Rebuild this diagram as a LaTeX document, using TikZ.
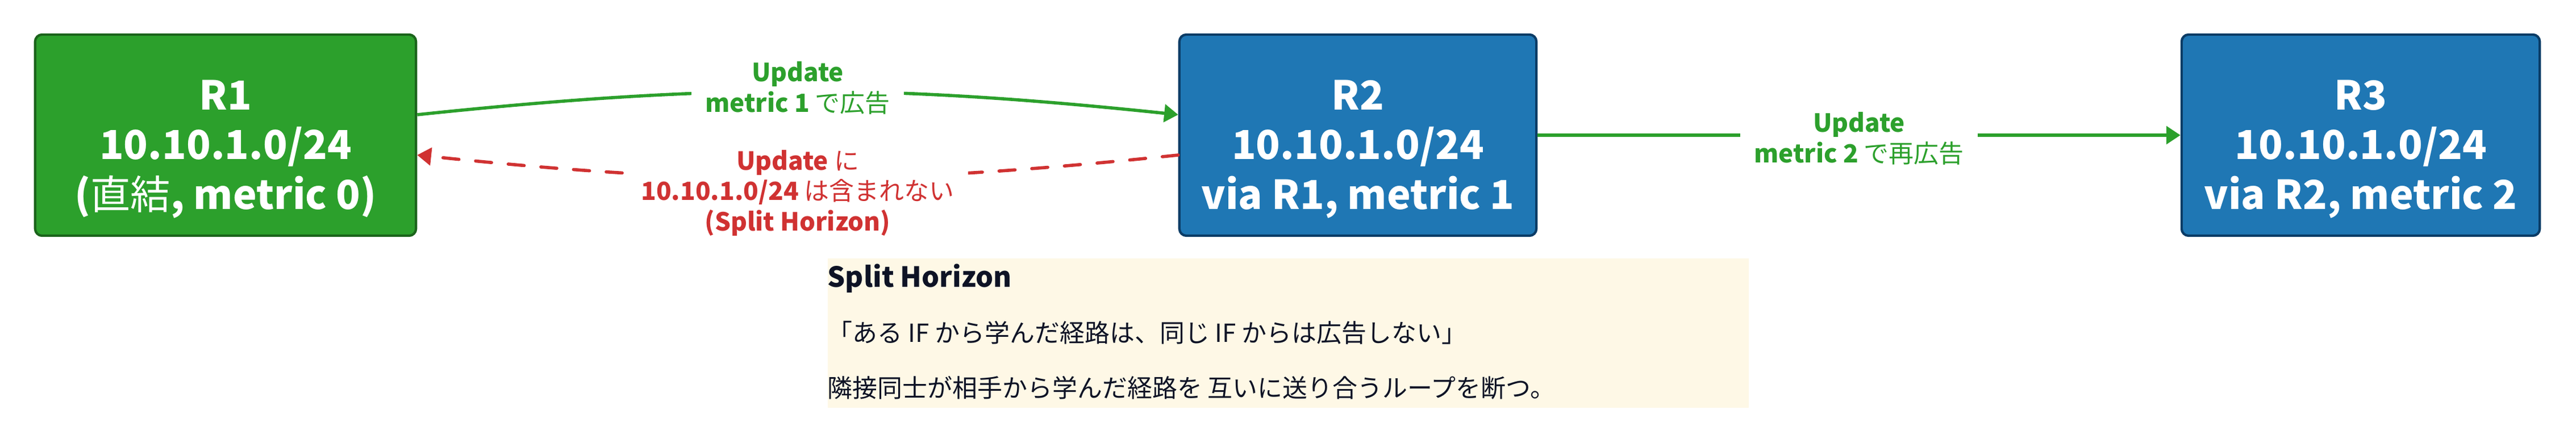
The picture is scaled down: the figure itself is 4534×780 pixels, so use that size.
\documentclass[tikz,border=0pt]{standalone}
\usepackage{fontspec}
\setmainfont{Noto Sans CJK JP}
\usetikzlibrary{arrows.meta}

\definecolor{advgreen}{HTML}{2CA02C}
\definecolor{advgreendark}{HTML}{1B641B}
\definecolor{rtblue}{HTML}{1F77B4}
\definecolor{rtbluedark}{HTML}{0B3C66}
\definecolor{shred}{HTML}{D03232}
\definecolor{notebg}{HTML}{FEF8E6}
\definecolor{noteink}{HTML}{0E1325}

\newcommand{\jpn}[1]{{\mdseries #1}}

\tikzset{
  router/.style={draw, line width=1.2pt, rounded corners=3.5pt, minimum height=3.54cm,
    align=center, text=white, text height=79pt, font=\fontsize{20}{25}\selectfont\bfseries},
  adv/.style={advgreen, line width=1.6pt, -{Triangle[length=7pt,width=8.8pt]}},
  blocked/.style={shred, line width=1.6pt, dash pattern=on 8pt off 8.4pt, line cap=round,
    -{Triangle[length=7pt,width=8.8pt]}},
  msg/.style={fill=white, inner xsep=7pt, inner ysep=2pt, align=center,
    font=\fontsize{12.5}{15.2}\selectfont\bfseries}
}

\begin{document}
\begin{tikzpicture}[x=0.01cm,y=0.01cm]
\useasboundingbox (0,0) rectangle (4534,780);

% routers
\node[router, fill=advgreen, draw=advgreendark, minimum width=6.70cm] (R1) at (397,542)
  {R1\\10.10.1.0/24\\(\jpn{直結}, metric 0)};
\node[router, fill=rtblue, draw=rtbluedark, minimum width=6.28cm] (R2) at (2390,542)
  {R2\\10.10.1.0/24\\via R1, metric 1};
\node[router, fill=rtblue, draw=rtbluedark, minimum width=6.30cm] (R3) at (4155,542)
  {R3\\10.10.1.0/24\\via R2, metric 2};

% updates
\draw[adv] ([yshift=0.36cm]R1.east) to[bend left=6]
  node[msg, text=advgreen, midway, yshift=0.06cm] (upd1) {Update\\metric 1 \jpn{で広告}} ([yshift=0.36cm]R2.west);
\draw[blocked] ([yshift=-0.35cm]R2.west) to[bend left=6]
  node[msg, text=shred, midway, yshift=-0.26cm] (upd0) {Update \jpn{に}\\10.10.1.0/24 \jpn{は含まれない}\\(Split Horizon)} ([yshift=-0.35cm]R1.east);
\draw[adv] (R2.east) -- node[msg, text=advgreen, midway, yshift=-0.06cm] (upd2) {Update\\metric 2 \jpn{で再広告}} (R3.west);

% note
\node[fill=notebg, anchor=north west, minimum width=16.2cm, minimum height=2.63cm, inner sep=0pt] (note) at (1456,326) {};
\node[anchor=base west, inner sep=0pt, align=left, text=noteink, font=\fontsize{12.5}{27.6}\selectfont] (notetext) at (1456,80)
  {{\bfseries\fontsize{13.9}{27.6}\selectfont Split Horizon}\\
   「ある IF から学んだ経路は、同じ IF からは広告しない」\\
   隣接同士が相手から学んだ経路を 互いに送り合うループを断つ。};
\end{tikzpicture}
\end{document}
